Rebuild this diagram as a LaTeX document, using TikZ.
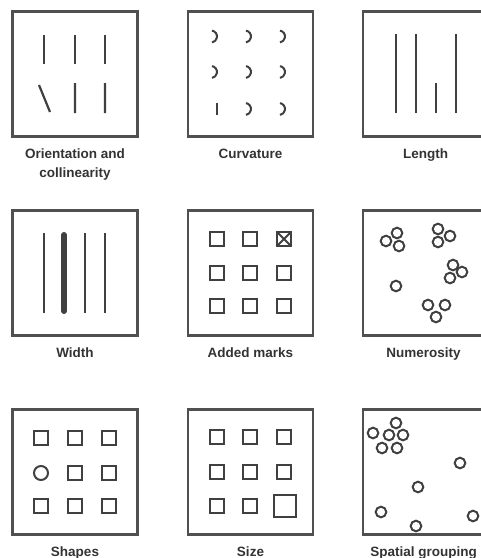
\documentclass[tikz,border=0pt]{standalone}
\usepackage{fontspec}
\setmainfont{Liberation Sans}
\usetikzlibrary{positioning}
\definecolor{inkgray}{RGB}{64,64,64}
\definecolor{framegray}{RGB}{80,80,80}
\definecolor{textgray}{RGB}{51,51,51}

\begin{document}
\begin{tikzpicture}[
  x=1pt, y=-1pt,
  panel/.style={draw=framegray, line width=2.3pt, minimum size=125pt, inner sep=0pt},
  caption/.style={font=\fontsize{13.5}{19}\selectfont\bfseries, text=textgray, align=center, inner sep=0pt},
  stroke/.style={draw=inkgray, line width=2.2pt},
  ring/.style={draw=inkgray, line width=2pt}
]
  \useasboundingbox (0,0) rectangle (481,558);
  \clip (0,0) rectangle (481,558);

  % panels
  \node[panel] (orientbox) at (75,74) {};
  \node[panel] (curvebox) at (250.5,74) {};
  \node[panel] (lengthbox) at (425.5,74) {};
  \node[panel] (widthbox) at (75,273) {};
  \node[panel] (markbox) at (250.5,273) {};
  \node[panel] (numbox) at (425.5,273) {};
  \node[panel] (shapebox) at (75,472) {};
  \node[panel] (sizebox) at (250.5,472) {};
  \node[panel] (groupbox) at (425.5,472) {};

  % captions
  \node[caption, below=11pt of orientbox] (orientlabel) {Orientation and\\collinearity};
  \node[caption, below=11pt of curvebox] (curvelabel) {Curvature};
  \node[caption, below=11pt of lengthbox] (lengthlabel) {Length};
  \node[caption, below=11pt of widthbox] (widthlabel) {Width};
  \node[caption, below=11pt of markbox] (marklabel) {Added marks};
  \node[caption, below=11pt of numbox, xshift=-2pt] (numlabel) {Numerosity};
  \node[caption, below=11pt of shapebox] (shapelabel) {Shapes};
  \node[caption, below=11pt of sizebox] (sizelabel) {Size};
  \node[caption, below=11pt of groupbox, xshift=-2pt] (grouplabel) {Spatial grouping};

  % orientation and collinearity
  \draw[stroke] (44,35) -- (44,64) (75,35) -- (75,64) (105,35) -- (105,64);
  \draw[stroke] (39,85) -- (50,112) (75,83) -- (75,113) (105,83) -- (105,113);

  % curvature
  \foreach \cx/\cy in {211/36.5, 245/36.5, 279/36.5, 211/72, 245/72, 279/72, 245/109, 279/109}
    \draw[stroke, line width=2pt] (\cx+1.04,\cy-5.91) arc[start angle=-80, end angle=80, radius=6];
  \draw[stroke, line width=2pt] (217,103) -- (217,115);

  % length
  \draw[stroke] (396,34) -- (396,113) (416,34) -- (416,113) (436,83) -- (436,113) (456,34) -- (456,113);

  % width
  \draw[stroke] (44,233) -- (44,313) (85,233) -- (85,313) (105,233) -- (105,313);
  \draw[stroke, line width=6pt, line cap=round] (64,235) -- (64,311);

  % added marks
  \foreach \x in {217,250,284}
    \foreach \y in {239,273,306}
      \draw[ring] (\x,\y) ++(-6.75,-6.75) rectangle ++(13.5,13.5);
  \draw[ring, line width=1.8pt] (277.25,232.25) -- (290.75,245.75) (290.75,232.25) -- (277.25,245.75);

  % numerosity
  \foreach \x/\y in {386/241, 397/233, 399/246, 438/229, 450/236, 438/242, 453/265, 462/272, 450/278, 396/286, 428/305, 445/305, 436/317}
    \draw[ring] (\x,\y) circle[radius=5.3];

  % shapes
  \foreach \x/\y in {41/438, 75/438, 109/438, 75/473, 109/473, 41/506, 75/506, 109/506}
    \draw[ring] (\x,\y) ++(-6.75,-6.75) rectangle ++(13.5,13.5);
  \draw[ring] (41,473) circle[radius=7];

  % size
  \foreach \x/\y in {217/437, 250/437, 284/437, 217/472, 250/472, 284/472, 217/506, 250/506}
    \draw[ring] (\x,\y) ++(-6.75,-6.75) rectangle ++(13.5,13.5);
  \draw[ring] (284.5,506) ++(-11,-11) rectangle ++(22,22);

  % spatial grouping
  \foreach \x/\y in {396/423, 373/433, 389/435, 403/435, 382/448, 397/448, 460/463, 418/487, 381/512, 416/526, 473/516}
    \draw[ring] (\x,\y) circle[radius=5.3];
\end{tikzpicture}
\end{document}
